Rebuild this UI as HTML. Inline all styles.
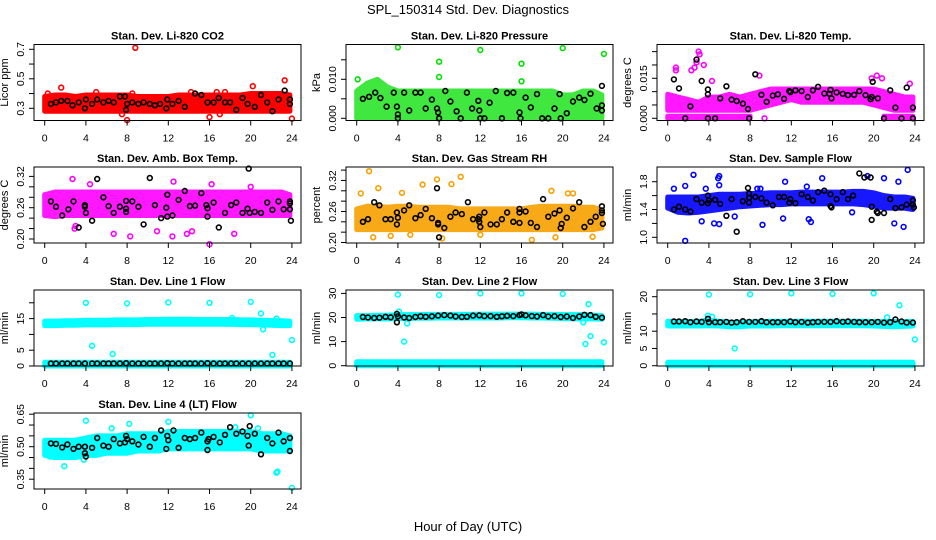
<!DOCTYPE html>
<html><head><meta charset="utf-8">
<style>
html,body{margin:0;padding:0;background:#fff;}
svg{display:block;font-family:"Liberation Sans",Arial,sans-serif;}
</style></head>
<body>
<svg id="chart" width="936" height="540" viewBox="0 0 936 540" xmlns="http://www.w3.org/2000/svg">
<rect width="936" height="540" fill="#fff"/>
<text x="468" y="14" text-anchor="middle" font-size="13">SPL_150314  Std. Dev. Diagnostics</text>
<text x="468" y="531" text-anchor="middle" font-size="13">Hour of Day (UTC)</text>
</svg>
<script>
const bandHours=[0,1,2,3,4,5,6,7,8,9,10,11,12,13,14,15,16,17,18,19,20,21,22,23,23.8];
const xTicks=[0,4,8,12,16,20,24];

// CO2
const co2Lo=[0.28,0.28,0.28,0.28,0.28,0.28,0.28,0.28,0.28,0.28,0.28,0.28,0.28,0.28,0.28,0.28,0.28,0.28,0.28,0.28,0.28,0.28,0.28,0.28,0.28];
const co2Hi=[0.38,0.39,0.39,0.38,0.39,0.39,0.39,0.39,0.39,0.38,0.38,0.38,0.38,0.39,0.39,0.39,0.39,0.39,0.39,0.39,0.40,0.40,0.40,0.40,0.39];
const co2Out=[[8.8,0.71],[1.6,0.44],[23.3,0.49],[20.2,0.45],[0.3,0.40],[8,0.22],[16,0.24],[24,0.23],[17.5,0.41],[14.2,0.41],[16.7,0.41],[5,0.41],[8.5,0.40],[7.5,0.26],[17,0.26]];
const co2Black=[[0.6,0.33],[1.1,0.34],[1.6,0.35],[2.2,0.35],[2.7,0.32],[3.3,0.34],[3.9,0.30],[4,0.36],[4.6,0.33],[5.1,0.36],[5.7,0.34],[6.2,0.35],[6.7,0.34],[7.3,0.38],[7.8,0.38],[7.9,0.29],[8.0,0.33],[8.5,0.34],[9.1,0.33],[9.6,0.34],[10.2,0.33],[10.7,0.32],[11.2,0.33],[11.8,0.30],[11.9,0.36],[12.4,0.33],[13,0.35],[13.6,0.31],[14.6,0.40],[15.2,0.39],[15.8,0.34],[16.4,0.34],[16.9,0.37],[17.5,0.34],[18,0.34],[18.6,0.29],[19.2,0.37],[19.7,0.33],[20.4,0.31],[21,0.39],[21.6,0.34],[22.1,0.28],[22.7,0.36],[23.3,0.42],[23.8,0.36],[23.8,0.33]];

// Pressure
const presLo=[0,0,0,0,0,0,0,0,0,0,0,0,0,0,0,0,0,0,0,0,0,0,0,0,0];
const presHi=[0.007,0.009,0.010,0.008,0.007,0.007,0.007,0.007,0.007,0.007,0.007,0.007,0.007,0.007,0.007,0.007,0.007,0.007,0.007,0.007,0.006,0.006,0.007,0.007,0.006];
const presOut=[[0.1,0.010],[4,0.0182],[8,0.0145],[8,0.0106],[12,0.0175],[16,0.014],[16,0.0095],[20,0.018],[24,0.0165]];
const presBlack=[[0.6,0.005],[1.2,0.0055],[1.8,0.0066],[2.3,0.0052],[2.9,0.003],[3.6,0.0066],[3.9,0.003],[4,0.001],[4,0],[4.6,0.0066],[5.1,0.002],[5.7,0.0066],[6.2,0.0066],[6.7,0.0025],[7.3,0.0048],[7.8,0.0025],[7.9,0.0015],[8,0],[8.6,0.007],[9.1,0.0043],[9.7,0.0018],[10.1,0],[10.7,0.0066],[11.2,0.0025],[11.8,0.0045],[11.9,0.002],[12,0],[12.4,0],[12.9,0.004],[13.5,0.007],[14.1,0],[14.6,0.0065],[15.2,0.0066],[15.8,0.0015],[15.9,0],[16.4,0.0053],[16.9,0.0028],[17.5,0.0062],[18,0],[18.6,0],[19.2,0.0025],[19.7,0.0062],[19.8,0],[20.4,0.0013],[21,0.0043],[21.6,0.0053],[22.1,0.0047],[22.7,0.0063],[23.3,0.0025],[23.8,0.0083],[23.8,0.0033],[23.8,0.002]];

// Li-820 Temp
const ltLo=[0.003,0.003,0.003,0.003,0.003,0.003,0.003,0.003,0.003,0.004,0.005,0.006,0.007,0.006,0.006,0.006,0.006,0.006,0.006,0.006,0.005,0.004,0.003,0.003,0.003];
const ltHi=[0.009,0.008,0.007,0.006,0.008,0.008,0.009,0.008,0.009,0.010,0.011,0.011,0.011,0.011,0.011,0.011,0.011,0.011,0.011,0.011,0.011,0.010,0.009,0.008,0.008];
const ltZeroLo=[0,0,0,0,0,0,0,0,0,null,null,null,null,null,null,null,null,null,null,null,null,0,0,0,0];
const ltZeroHi=[0.0008,0.0008,0.0008,0.0008,0.0008,0.0008,0.0008,0.0008,0.0008,null,null,null,null,null,null,null,null,null,null,null,null,0.0008,0.0008,0.0008,0.0008];
const ltOut=[[0.8,0.019],[0.8,0.018],[2.3,0.018],[2.6,0.019],[2.8,0.021],[3.0,0.025],[3.1,0.024],[3.5,0.020],[4.3,0.014],[8.9,0.016],[19.8,0.015],[20.3,0.016],[20.8,0.015],[23.5,0.013],[9.4,0]];
const ltBlack=[[0.6,0.0146],[1.1,0.0112],[1.7,0],[2.2,0.0045],[2.8,0.022],[3.3,0.014],[3.9,0.0108],[3.9,0.009],[3.9,0],[4.6,0],[5.1,0.0075],[5.7,0.012],[6.2,0.007],[6.7,0.0065],[7.3,0.0055],[7.8,0.0035],[7.9,0],[8.5,0.0165],[9.1,0.0088],[9.6,0.0062],[10.2,0.0085],[10.7,0.009],[11.3,0.0073],[11.8,0.0102],[11.9,0.0098],[12.4,0.0105],[13,0.0102],[13.6,0.008],[14.1,0.0105],[14.6,0.0118],[15.2,0.0093],[15.7,0.0092],[15.8,0.0107],[15.9,0.0075],[16.4,0.0097],[17,0.0092],[17.5,0.0087],[18.1,0.0088],[18.6,0.0102],[19.2,0.0087],[19.7,0.0072],[19.8,0.0080],[19.9,0.0137],[20.4,0.0075],[21,0],[21.6,0.0105],[22.1,0.004],[22.7,0],[23.2,0.0115],[23.8,0.004],[23.8,0]];

// Amb box temp
const abLo=[0.245,0.243,0.245,0.245,0.245,0.245,0.245,0.245,0.245,0.245,0.245,0.245,0.245,0.245,0.245,0.245,0.245,0.245,0.245,0.245,0.245,0.245,0.245,0.245,0.245];
const abHi=[0.285,0.29,0.29,0.29,0.29,0.29,0.29,0.29,0.29,0.29,0.29,0.29,0.29,0.29,0.29,0.29,0.29,0.29,0.29,0.29,0.29,0.29,0.29,0.29,0.285];
const abOut=[[2.7,0.315],[4.4,0.305],[12.5,0.31],[16.2,0.305],[20,0.3],[16,0.19],[8.3,0.205],[12.4,0.205],[6.7,0.21],[13.8,0.21],[18.4,0.21],[10.9,0.215],[3,0.225],[14.3,0.215],[2.9,0.22]];
const abBlack=[[0.6,0.272],[1.1,0.262],[1.7,0.245],[2.3,0.257],[2.8,0.272],[3.3,0.222],[3.9,0.265],[3.9,0.262],[4,0.25],[4.6,0.235],[5.1,0.315],[5.7,0.28],[6.2,0.263],[6.7,0.25],[7.3,0.262],[7.9,0.273],[7.9,0.258],[7.9,0.252],[8.5,0.272],[9.1,0.262],[9.6,0.228],[10.2,0.317],[10.7,0.265],[11.3,0.24],[11.8,0.26],[11.9,0.243],[11.9,0.285],[12.4,0.245],[13,0.275],[13.6,0.292],[14.1,0.263],[14.6,0.264],[15.2,0.288],[15.7,0.265],[15.8,0.259],[15.8,0.243],[16.4,0.27],[16.9,0.222],[17.5,0.25],[18.1,0.265],[18.6,0.27],[19.2,0.25],[19.7,0.258],[19.8,0.335],[19.9,0.25],[20.4,0.252],[21,0.25],[21.6,0.27],[22.1,0.256],[22.7,0.272],[23.2,0.257],[23.8,0.272],[23.8,0.268],[23.8,0.257],[23.9,0.235]];

// Gas stream RH
const rhLo=[0.225,0.225,0.225,0.225,0.225,0.225,0.225,0.225,0.225,0.225,0.225,0.225,0.225,0.225,0.225,0.225,0.225,0.225,0.225,0.225,0.225,0.225,0.225,0.225,0.228];
const rhHi=[0.265,0.27,0.27,0.268,0.27,0.27,0.268,0.268,0.268,0.268,0.265,0.265,0.265,0.265,0.265,0.265,0.265,0.268,0.27,0.27,0.27,0.27,0.268,0.268,0.262];
const rhOut=[[1.2,0.338],[0.4,0.295],[2.1,0.305],[6.4,0.312],[7.8,0.322],[9.2,0.313],[10.1,0.327],[4.4,0.296],[18.9,0.30],[20.5,0.295],[21.0,0.295],[1.6,0.21],[3.3,0.213],[8.3,0.208],[17,0.205],[22.9,0.211],[19.3,0.21],[5.2,0.215],[12,0.215]];
const rhBlack=[[0.6,0.24],[1.1,0.245],[1.7,0.278],[2.2,0.272],[2.8,0.245],[3.3,0.245],[3.9,0.258],[3.9,0.235],[4,0.248],[4.6,0.262],[5.1,0.272],[5.7,0.247],[6.2,0.253],[6.7,0.265],[7.3,0.247],[7.8,0.305],[7.9,0.238],[7.9,0.235],[8,0.21],[8.5,0.228],[9.1,0.25],[9.6,0.258],[10.2,0.255],[10.8,0.278],[11.3,0.245],[11.8,0.245],[11.9,0.24],[11.9,0.25],[12.0,0.23],[12.4,0.258],[13,0.235],[13.6,0.235],[14.1,0.245],[14.6,0.258],[15.2,0.24],[15.8,0.265],[15.8,0.258],[15.8,0.238],[16.4,0.26],[16.9,0.238],[17.5,0.23],[18.1,0.284],[18.6,0.25],[19.2,0.256],[19.7,0.262],[19.8,0.228],[19.9,0.236],[20.4,0.248],[21,0.266],[21.6,0.278],[22.1,0.23],[22.7,0.24],[23.2,0.25],[23.8,0.27],[23.8,0.262],[23.8,0.257],[23.9,0.236]];

// Sample flow
const sfLo=[1.42,1.36,1.35,1.36,1.38,1.40,1.42,1.44,1.45,1.46,1.47,1.47,1.48,1.48,1.48,1.48,1.48,1.48,1.48,1.47,1.45,1.42,1.42,1.42,1.40];
const sfHi=[1.58,1.58,1.58,1.58,1.60,1.62,1.62,1.62,1.63,1.63,1.64,1.64,1.64,1.65,1.65,1.65,1.65,1.65,1.66,1.66,1.64,1.60,1.58,1.58,1.56];
const sfOut=[[2.5,1.9],[5,1.88],[4.9,1.85],[5,1.75],[0.6,1.7],[1.7,1.74],[3.7,1.7],[8.7,1.7],[9,1.7],[11.4,1.8],[13.5,1.73],[15,1.85],[19.4,1.88],[21,1.85],[22.4,1.8],[23.3,1.97],[1.7,0.95],[4.5,1.2],[5,1.19],[9.2,1.18],[11.2,1.27],[13.7,1.26],[13.9,1.22],[22,1.2],[22.9,1.15],[3.3,1.23],[6.5,1.3],[17.9,1.36]];
const sfBlack=[[0.6,1.4],[1.1,1.44],[1.7,1.4],[2.2,1.37],[2.8,1.55],[3.3,1.5],[3.9,1.49],[3.9,1.6],[4,1.53],[4.6,1.54],[5.1,1.48],[5.7,1.31],[6.2,1.55],[6.7,1.08],[7.3,1.52],[7.8,1.71],[7.9,1.63],[7.9,1.57],[7.9,1.5],[8.5,1.58],[9.1,1.56],[9.6,1.5],[10.2,1.46],[10.8,1.58],[11.3,1.58],[11.8,1.5],[11.9,1.55],[12.4,1.49],[13,1.62],[13.6,1.58],[14.1,1.53],[14.6,1.65],[15.2,1.67],[15.8,1.62],[15.8,1.45],[15.9,1.43],[16.4,1.55],[17,1.65],[17.5,1.55],[18,1.6],[18.6,1.92],[19.1,1.86],[19.7,1.86],[19.8,1.44],[19.8,1.25],[20.3,1.37],[20.4,1.35],[21,1.35],[21.6,1.55],[22.1,1.42],[22.7,1.43],[23.2,1.47],[23.8,1.53],[23.8,1.47],[23.9,1.43]];

// Line 1
const l1Lo=[12.8,12.8,12.9,12.9,13.0,13.0,13.0,13.1,13.1,13.1,13.2,13.2,13.2,13.2,13.2,13.2,13.2,13.2,13.2,13.1,13.1,13.0,12.9,12.8,12.8];
const l1Hi=[14.2,14.2,14.3,14.3,14.5,14.5,14.5,14.6,14.6,14.6,14.7,14.7,14.8,14.8,14.8,14.7,14.7,14.7,14.7,14.6,14.6,14.5,14.4,14.3,14.2];
const l1Lo2=[0,0,0,0,0,0,0,0,0,0,0,0,0,0,0,0,0,0,0,0,0,0,0,0,0];
const l1Hi2=[1.2,1.2,1.2,1.2,1.2,1.2,1.2,1.2,1.2,1.2,1.2,1.2,1.2,1.2,1.2,1.2,1.2,1.2,1.2,1.2,1.2,1.2,1.2,1.2,1.2];
const l1Out=[[4,20],[8,19.8],[12,20.1],[16,20],[20,20.3],[4.6,6.4],[6.6,3.8],[21,16.6],[21.2,11.6],[22.1,3.5],[24,8.2],[18.2,15.2],[22.5,15]];
const l1Black=[[0.6,0.8],[1.1,0.8],[1.7,0.8],[2.2,0.8],[2.8,0.8],[3.3,0.8],[3.9,0.8],[4.6,0.8],[5.1,0.8],[5.7,0.8],[6.2,0.8],[6.7,0.8],[7.3,0.8],[7.9,0.9],[8.5,0.8],[9.1,0.8],[9.6,0.8],[10.2,0.8],[10.7,0.8],[11.3,0.8],[11.9,0.9],[12.4,0.8],[13,0.8],[13.6,0.8],[14.1,0.8],[14.6,0.8],[15.2,0.8],[15.8,0.9],[16.4,0.8],[17,0.8],[17.5,0.8],[18.1,0.8],[18.6,0.8],[19.2,0.8],[19.8,0.8],[20.4,0.8],[21,0.8],[21.6,0.8],[22.1,0.8],[22.7,0.8],[23.2,0.8],[23.8,0.8]];

// Line 2
const l2Lo=[19.3,19.4,19.4,19.4,19.5,19.6,19.7,19.7,19.8,19.8,19.8,19.8,19.8,19.8,19.8,19.9,19.9,19.8,19.8,19.7,19.6,19.5,19.4,19.4,19.3];
const l2Hi=[20.8,20.8,20.9,21.0,21.2,21.2,21.2,21.3,21.3,21.3,21.3,21.3,21.4,21.4,21.4,21.4,21.4,21.4,21.3,21.3,21.2,21.2,21.2,21.0,20.8];
const l2Lo2=[0,0,0,0,0,0,0,0,0,0,0,0,0,0,0,0,0,0,0,0,0,0,0,0,0];
const l2Hi2=[1.6,1.6,1.6,1.6,1.6,1.6,1.6,1.6,1.6,1.6,1.6,1.6,1.6,1.6,1.6,1.6,1.6,1.6,1.6,1.6,1.6,1.6,1.6,1.6,1.6];
const l2Out=[[4,29.5],[8,29.3],[12,30],[16,30],[20,29.8],[4.6,10],[4.9,17.5],[22.2,9],[22.5,25.5],[22.7,12.3],[24,9.7],[22,18],[4.1,22.5]];
const l2Black=[[0.6,20.2],[1.1,20.0],[1.7,19.8],[2.2,19.9],[2.8,20.3],[3.3,20.1],[3.9,21.5],[3.9,18.0],[4,20.5],[4.6,20.0],[5.1,19.8],[5.7,20.2],[6.2,20.5],[6.7,20.3],[7.3,20.5],[7.9,20.8],[8.5,21.0],[9.1,20.8],[9.6,20.4],[10.2,20.2],[10.7,20.3],[11.3,20.8],[11.9,20.9],[12.4,20.6],[13,20.6],[13.6,20.3],[14.1,20.5],[14.6,20.7],[15.2,20.6],[15.8,21.0],[16,21.3],[16.4,20.9],[17,20.6],[17.5,20.4],[18.1,21.0],[18.6,20.4],[19.2,20.6],[19.8,20.2],[20.4,20.4],[21,19.8],[21.6,20.4],[22.1,21.1],[22.7,21.0],[23.2,20.3],[23.8,19.9]];

// Line 3
const l3Lo=[11.5,11.5,11.5,11.5,11.6,11.5,11.3,11.3,11.5,11.5,11.5,11.6,11.6,11.6,11.6,11.6,11.6,11.6,11.6,11.6,11.5,11.4,11.3,11.4,11.5];
const l3Hi=[12.9,12.8,12.8,12.8,13.3,12.9,12.6,12.6,12.7,12.8,12.9,12.9,12.9,12.9,12.9,12.9,12.9,12.9,12.9,12.9,12.8,12.8,12.8,12.8,12.8];
const l3Lo2=[0,0,0,0,0,0,0,0,0,0,0,0,0,0,0,0,0,0,0,0,0,0,0,0,0];
const l3Hi2=[1.0,1.0,1.0,1.0,1.0,1.0,1.0,1.0,1.0,1.0,1.0,1.0,1.0,1.0,1.0,1.0,1.0,1.0,1.0,1.0,1.0,1.0,1.0,1.0,1.0];
const l3Out=[[4,20.6],[8,20.7],[12,21],[16,20.8],[20,21],[6.5,5],[22.5,17.5],[21.3,14],[24,7.6],[3.9,14.5],[4.3,14.2]];
const l3Black=[[0.6,12.8],[1.1,12.8],[1.7,12.9],[2.2,12.6],[2.8,12.8],[3.3,12.7],[3.9,13.6],[4,12.6],[4.6,12.6],[5.1,12.6],[5.7,12.7],[6.2,12.5],[6.7,12.6],[7.3,12.9],[7.9,12.7],[8.5,12.7],[9.1,12.9],[9.6,12.6],[10.2,12.6],[10.7,12.6],[11.3,12.6],[11.9,12.8],[12.4,12.6],[13,12.7],[13.6,12.5],[14.1,12.6],[14.6,12.7],[15.2,12.7],[15.8,12.7],[16.4,12.9],[17,12.7],[17.5,12.8],[18.1,12.7],[18.6,12.6],[19.2,12.6],[19.8,12.6],[20.4,12.7],[21,12.5],[21.6,12.6],[22.1,13.4],[22.7,12.8],[23.2,12.5],[23.8,12.5]];

// Line 4 (LT)
const l4Lo=[0.46,0.45,0.45,0.45,0.46,0.46,0.47,0.47,0.47,0.48,0.48,0.48,0.49,0.49,0.49,0.49,0.49,0.49,0.49,0.49,0.49,0.48,0.48,0.48,0.48];
const l4Hi=[0.53,0.53,0.53,0.53,0.54,0.55,0.55,0.55,0.56,0.56,0.56,0.56,0.57,0.57,0.57,0.57,0.57,0.57,0.57,0.57,0.57,0.56,0.56,0.56,0.55];
const l4Out=[[4,0.62],[20,0.645],[8.2,0.605],[12,0.615],[1.9,0.41],[22.5,0.38],[22.6,0.385],[24,0.31],[6.5,0.585],[18.5,0.59],[20.7,0.585],[3.8,0.44],[0.5,0.455]];
const l4Black=[[0.6,0.515],[1.1,0.513],[1.7,0.497],[2.2,0.51],[2.8,0.49],[3.3,0.5],[3.9,0.5],[3.9,0.47],[4,0.455],[4.6,0.495],[5.1,0.54],[5.7,0.505],[6.2,0.5],[6.7,0.535],[7.3,0.515],[7.8,0.52],[7.9,0.55],[8,0.535],[8.5,0.525],[9.1,0.51],[9.6,0.545],[10.2,0.5],[10.7,0.54],[11.3,0.575],[11.8,0.49],[11.9,0.55],[12,0.53],[12.5,0.575],[13,0.495],[13.6,0.54],[14.1,0.535],[14.6,0.54],[15.2,0.565],[15.8,0.525],[15.8,0.485],[15.9,0.535],[16.4,0.545],[17,0.52],[17.5,0.555],[18,0.59],[18.6,0.56],[19.2,0.57],[19.7,0.55],[19.8,0.505],[19.9,0.595],[20.4,0.56],[21,0.465],[21.6,0.54],[22.1,0.515],[22.7,0.565],[23.2,0.525],[23.8,0.54],[23.8,0.48]];

const NS='http://www.w3.org/2000/svg';
const svg=document.getElementById('chart');
const colLeft=[34,346,657];
const rowTop=[44.5,167,290,413];
const BW=267, BH=76;

const panels=[
 {id:'co2',c:0,r:0,title:'Stan. Dev. Li-820 CO2',ylab:'Licor ppm',color:'#ff0000',op:1,v0:0.3,y0:108.3,k:147.5,ticks:[0.3,0.4,0.5,0.6,0.7],labels:[[0.3,'0.3'],[0.5,'0.5'],[0.7,'0.7']],bands:[[co2Lo,co2Hi]],out:co2Out,blk:co2Black},
 {id:'pressure',c:1,r:0,title:'Stan. Dev. Li-820 Pressure',ylab:'kPa',color:'#00e000',op:0.75,v0:0,y0:118.3,k:3900,ticks:[0,0.005,0.01,0.015],labels:[[0,'0.000'],[0.01,'0.010']],bands:[[presLo,presHi]],out:presOut,blk:presBlack},
 {id:'li820-temp',c:2,r:0,title:'Stan. Dev. Li-820 Temp.',ylab:'degrees C',color:'#ff00ff',op:0.9,v0:0,y0:118.3,k:2667,ticks:[0,0.005,0.01,0.015,0.02,0.025],labels:[[0,'0.000'],[0.015,'0.015']],bands:[[ltLo,ltHi],[ltZeroLo,ltZeroHi]],out:ltOut,blk:ltBlack},
 {id:'amb-box-temp',c:0,r:1,title:'Stan. Dev. Amb. Box Temp.',ylab:'degrees C',color:'#ff00ff',op:0.9,v0:0.2,y0:239,k:521.7,ticks:[0.2,0.22,0.24,0.26,0.28,0.3,0.32],labels:[[0.2,'0.20'],[0.26,'0.26'],[0.32,'0.32']],bands:[[abLo,abHi]],out:abOut,blk:abBlack},
 {id:'gas-rh',c:1,r:1,title:'Stan. Dev. Gas Stream RH',ylab:'percent',color:'#f7a000',op:0.9,v0:0.2,y0:242.5,k:517,ticks:[0.2,0.22,0.24,0.26,0.28,0.3,0.32,0.34],labels:[[0.2,'0.20'],[0.26,'0.26'],[0.32,'0.32']],bands:[[rhLo,rhHi]],out:rhOut,blk:rhBlack},
 {id:'sample-flow',c:2,r:1,title:'Stan. Dev. Sample Flow',ylab:'ml/min',color:'#0000ff',op:0.9,v0:1.0,y0:237.3,k:69.5,ticks:[1.0,1.2,1.4,1.6,1.8],labels:[[1.0,'1.0'],[1.4,'1.4'],[1.8,'1.8']],bands:[[sfLo,sfHi]],out:sfOut,blk:sfBlack},
 {id:'line1-flow',c:0,r:2,title:'Stan. Dev. Line 1 Flow',ylab:'ml/min',color:'#00ffff',op:1,v0:0,y0:366,k:3.16,ticks:[0,5,10,15,20],labels:[[0,'0'],[5,'5'],[15,'15']],bands:[[l1Lo,l1Hi],[l1Lo2,l1Hi2]],out:l1Out,blk:l1Black},
 {id:'line2-flow',c:1,r:2,title:'Stan. Dev. Line 2 Flow',ylab:'ml/min',color:'#00ffff',op:1,v0:0,y0:365.7,k:2.41,ticks:[0,10,20,30],labels:[[0,'0'],[10,'10'],[20,'20'],[30,'30']],bands:[[l2Lo,l2Hi],[l2Lo2,l2Hi2]],out:l2Out,blk:l2Black},
 {id:'line3-flow',c:2,r:2,title:'Stan. Dev. Line 3 Flow',ylab:'ml/min',color:'#00ffff',op:1,v0:0,y0:365.7,k:3.45,ticks:[0,5,10,15,20],labels:[[0,'0'],[5,'5'],[10,'10'],[20,'20']],bands:[[l3Lo,l3Hi],[l3Lo2,l3Hi2]],out:l3Out,blk:l3Black},
 {id:'line4-flow',c:0,r:3,title:'Stan. Dev. Line 4 (LT) Flow',ylab:'ml/min',color:'#00ffff',op:1,v0:0.5,y0:446.7,k:216.7,ticks:[0.35,0.4,0.45,0.5,0.55,0.6,0.65],labels:[[0.35,'0.35'],[0.5,'0.50'],[0.65,'0.65']],bands:[[l4Lo,l4Hi]],out:l4Out,blk:l4Black}
];

function mk(tag,attrs,parent){const e=document.createElementNS(NS,tag);for(const a in attrs)e.setAttribute(a,attrs[a]);(parent||svg).appendChild(e);return e;}

panels.forEach(p=>{
 const L=colLeft[p.c], T=rowTop[p.r];
 const xs=h=>L+10.7+h*(BW/1.08)/24;
 const ys=v=>p.y0-(v-p.v0)*p.k;
 const g=mk('g',{});
 
 
 p.bands.forEach(b=>{
  const lo=b[0],hi=b[1];
  let top=[],bot=[];
  const segs=[];
  for(let i=0;i<bandHours.length;i++){
   if(lo[i]===null){ if(top.length){segs.push([top,bot]);top=[];bot=[];} continue;}
   top.push([xs(bandHours[i]),ys(hi[i])]);bot.push([xs(bandHours[i]),ys(lo[i])]);
  }
  if(top.length)segs.push([top,bot]);
  segs.forEach(s=>{
   const pts=s[0].concat(s[1].slice().reverse()).map(q=>q[0].toFixed(1)+','+q[1].toFixed(1)).join(' ');
   const poly=mk('polygon',{points:pts,fill:p.color,stroke:p.color,'stroke-width':'5','stroke-linejoin':'round','opacity':p.op},g);
   
   
  });
 });
 p.out.forEach(o=>{
  const c=mk('circle',{cx:xs(o[0]).toFixed(1),cy:ys(o[1]).toFixed(1),r:2.4,fill:'none',stroke:p.color,'stroke-width':1.6},g);
  
  
 });
 p.blk.forEach(o=>{
  const c=mk('circle',{cx:xs(o[0]).toFixed(1),cy:ys(o[1]).toFixed(1),r:2.4,fill:'none',stroke:'#000','stroke-width':1.6},g);
  
  
 });
 const box=mk('rect',{x:L,y:T,width:BW,height:BH,fill:'none',stroke:'#000','stroke-width':1},g);
 
 
 const tt=mk('text',{x:L+BW/2,y:T-5,'text-anchor':'middle','font-size':'11','font-weight':'bold'},g);
 tt.textContent=p.title;
 
 
 const B=T+BH;
 mk('line',{x1:xs(0),x2:xs(24),y1:B,y2:B,stroke:'#000'},g);
 xTicks.forEach(h=>{
  mk('line',{x1:xs(h),x2:xs(h),y1:B,y2:B+5,stroke:'#000'},g);
  const t=mk('text',{x:xs(h),y:B+21,'text-anchor':'middle','font-size':'10.5'},g);
  t.textContent=h;
  
  
 });
 p.ticks.forEach(v=>{mk('line',{x1:L-5,x2:L,y1:ys(v),y2:ys(v),stroke:'#000'},g);});
 p.labels.forEach(l=>{
  const y=ys(l[0]);
  const t=mk('text',{x:L-10,y:y,'text-anchor':'middle','font-size':'10.5',transform:'rotate(-90 '+(L-10)+' '+y+')'},g);
  t.textContent=l[1];
  
  
 });
 const yl=mk('text',{x:L-26,y:T+BH/2,'text-anchor':'middle','font-size':'11',transform:'rotate(-90 '+(L-26)+' '+(T+BH/2)+')'},g);
 yl.textContent=p.ylab;
 
 
});
</script>
</body></html>
